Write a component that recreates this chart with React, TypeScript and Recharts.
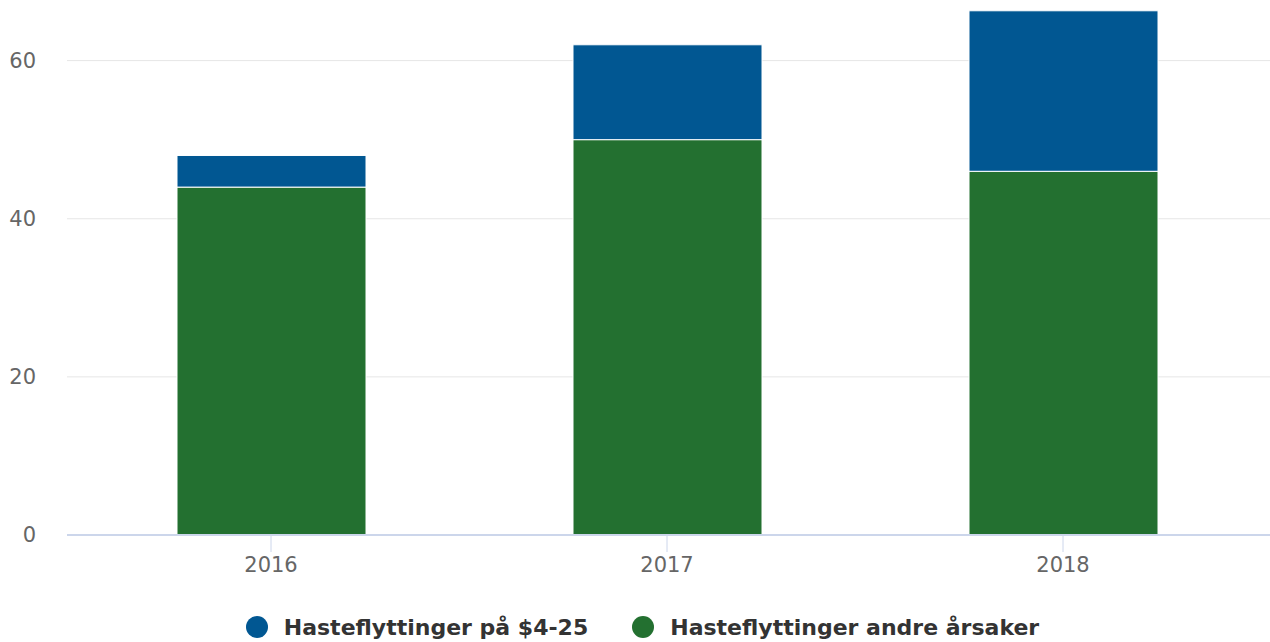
import React from 'react';
import { BarChart, Bar, XAxis, YAxis, CartesianGrid, Legend } from 'recharts';

const years = ['2016', '2017', '2018'];
const hasteS425 = [4, 12, 20.3];
const hasteAndre = [44, 50, 46];
const yTicks = [0, 20, 40, 60];

const BLUE = '#015792';
const GREEN = '#237030';
const FONT = '"DejaVu Sans", sans-serif';

const data = years.map((year, i) => ({ year, s425: hasteS425[i], andre: hasteAndre[i] }));

const legendItems = [
  { label: 'Hasteflyttinger på $4-25', color: BLUE },
  { label: 'Hasteflyttinger andre årsaker', color: GREEN },
];

const LegendBox = () => (
  <div style={{ display: 'flex', justifyContent: 'center', alignItems: 'center', fontFamily: FONT, height: 40, marginTop: 24, paddingLeft: 15 }}>
    {legendItems.map((it) => (
      <div key={it.label} style={{ display: 'flex', alignItems: 'center', margin: '0 22px' }}>
        <span style={{ width: 22, height: 22, borderRadius: 11, background: it.color, display: 'inline-block', marginRight: 16 }} />
        <span style={{ fontSize: 22, fontWeight: 'bold', color: '#333' }}>{it.label}</span>
      </div>
    ))}
  </div>
);

const App: React.FC = () => {
  return (
    <div style={{ position: 'absolute', left: 0, top: 0, background: '#fff' }}>
      <BarChart width={1270} height={642} data={data} margin={{ top: 10, right: 0, left: 0, bottom: 0 }}>
        <CartesianGrid vertical={false} stroke="#e6e6e6" horizontalValues={yTicks} />
        <XAxis
          dataKey="year"
          padding={{ left: 6, right: 9 }}
          axisLine={{ stroke: '#ccd6eb', strokeWidth: 2 }}
          tickLine={{ stroke: '#ccd6eb' }}
          tickSize={17}
          tickMargin={5}
          height={48}
          tick={{ fontSize: 21, fill: '#666', fontFamily: FONT }}
        />
        <YAxis
          domain={[0, 66.4]}
          ticks={yTicks}
          width={67}
          axisLine={false}
          tickLine={false}
          tickSize={0}
          tickMargin={31}
          tick={{ fontSize: 21, fill: '#666', fontFamily: FONT }}
        />
        <Legend verticalAlign="bottom" height={59} wrapperStyle={{ bottom: 0 }} content={() => <LegendBox />} />
        <Bar dataKey="andre" stackId="a" fill={GREEN} stroke="#fff" strokeWidth={1} barSize={189} isAnimationActive={false} />
        <Bar dataKey="s425" stackId="a" fill={BLUE} stroke="#fff" strokeWidth={1} barSize={189} isAnimationActive={false} />
      </BarChart>
    </div>
  );
};

export default App;
